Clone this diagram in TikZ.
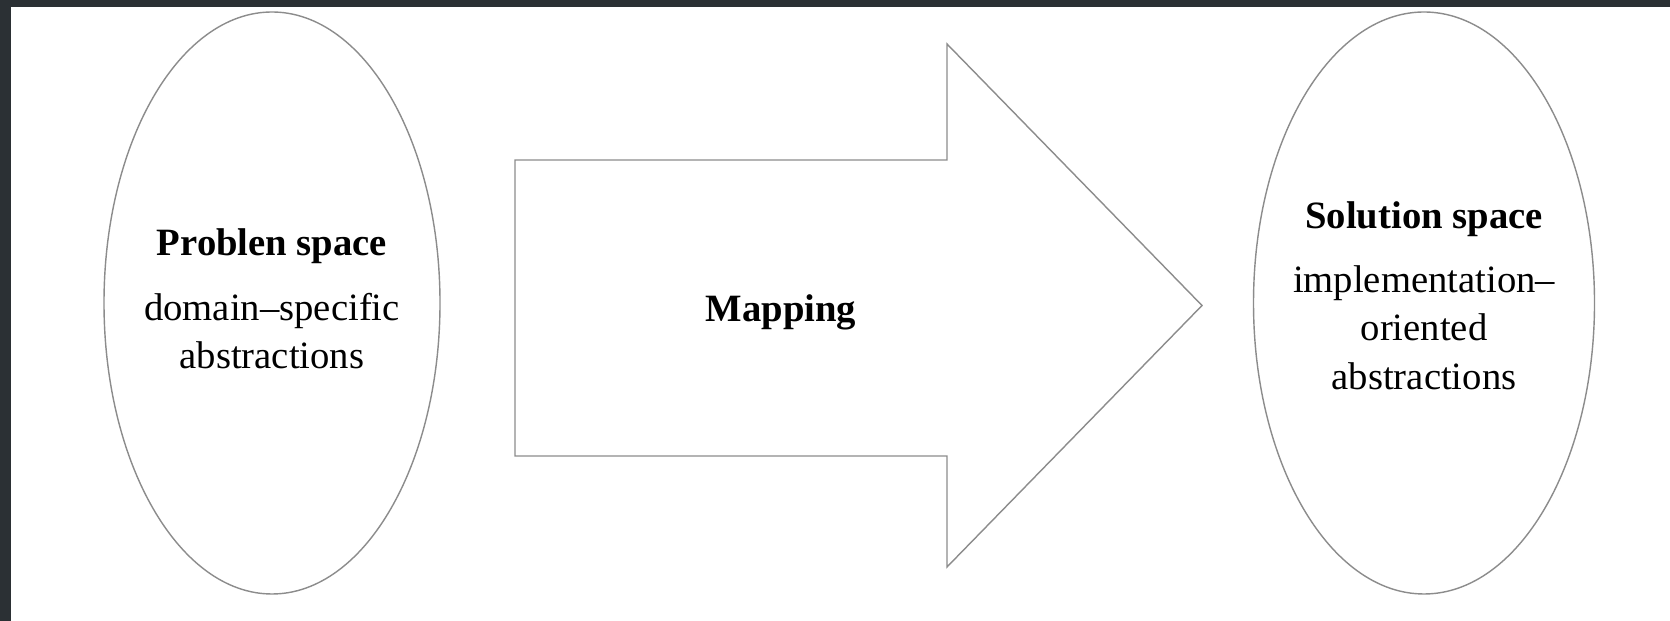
\documentclass[tikz,border=0pt]{standalone}
\usepackage{fontspec}
\setmainfont{Liberation Serif}
\usetikzlibrary{shapes.geometric}
\definecolor{framedark}{RGB}{43,48,52}
\definecolor{edgegray}{RGB}{140,140,140}

\begin{document}
\begin{tikzpicture}[
    space/.style={draw=edgegray,line width=0.8pt,ellipse,inner sep=0pt},
    spacetext/.style={align=center,font=\fontsize{22}{27.5}\selectfont},
    blockarrow/.style={draw=edgegray,line width=0.8pt,line join=miter}
]
\useasboundingbox (0,0) rectangle (33.4,12.42);
\fill[white] (0,0) rectangle (33.4,12.42);
\fill[framedark] (0,0) rectangle (0.22,12.42);
\fill[framedark] (0,12.28) rectangle (33.4,12.42);

% the two spaces
\node[space,minimum width=6.72cm,minimum height=11.64cm] (problem) at (5.44,6.36) {};
\node[space,minimum width=6.82cm,minimum height=11.64cm] (solution) at (28.48,6.36) {};

\node[spacetext] (problemtext) at ([yshift=0.08cm]problem.center)
    {\textbf{Problen space}\\[9pt] domain--specific\\ abstractions};
\node[spacetext] (solutiontext) at ([yshift=0.15cm]solution.center)
    {\textbf{Solution space}\\[9pt] implementation--\\ oriented\\ abstractions};

% the mapping arrow
\draw[blockarrow] (10.3,3.30) -- (10.3,9.22) -- (18.94,9.22) -- (18.94,11.54)
    -- (24.04,6.31) -- (18.94,1.08) -- (18.94,3.30) -- cycle;
\node[font=\fontsize{22}{27.5}\selectfont\bfseries,anchor=base] (mapping) at (15.62,5.98) {Mapping};
\end{tikzpicture}
\end{document}
